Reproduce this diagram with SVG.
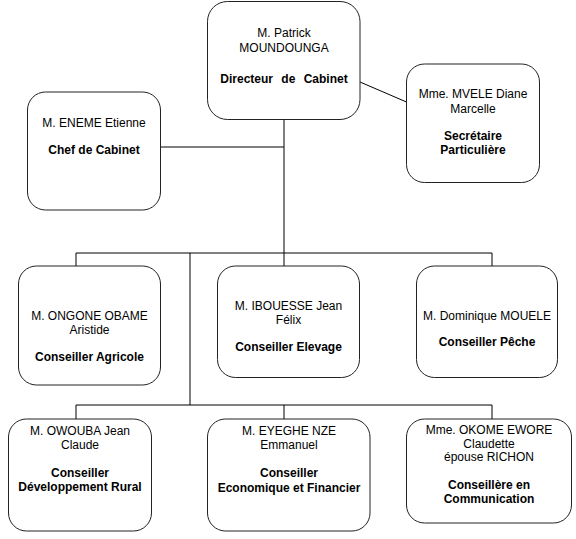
<svg xmlns="http://www.w3.org/2000/svg" width="576" height="539" viewBox="0 0 576 539">
<style>
  .box { fill: #ffffff; stroke: #222222; stroke-width: 1; }
  .conn { fill: none; stroke: #000000; stroke-width: 1; }
  text { font-family: "Liberation Sans", Arial, sans-serif; font-size: 12px; fill: #000000; text-anchor: middle; }
  .b { font-weight: bold; }
</style>
<rect x="0" y="0" width="576" height="539" fill="#ffffff"/>
<g id="connectors">
  <line class="conn" x1="284" y1="119.5" x2="284" y2="266"/>
  <line class="conn" x1="160.5" y1="147" x2="284" y2="147"/>
  <line class="conn" x1="360" y1="82" x2="406.5" y2="102"/>
  <polyline class="conn" points="76,266 76,253 492,253 492,266"/>
  <line class="conn" x1="190" y1="253" x2="190" y2="405"/>
  <polyline class="conn" points="76,419 76,405 492,405 492,419"/>
  <line class="conn" x1="284" y1="405" x2="284" y2="419"/>
</g>
<g id="directeur">
  <rect class="box" x="207.5" y="1.5" width="152.5" height="118" rx="20"/>
  <text x="284" y="37">M. Patrick</text>
  <text x="284" y="52">MOUNDOUNGA</text>
  <text class="b" x="284" y="83" word-spacing="5">Directeur de Cabinet</text>
</g>
<g id="secretaire">
  <rect class="box" x="406.5" y="64" width="133" height="118.5" rx="18"/>
  <text x="473" y="98">Mme. MVELE Diane</text>
  <text x="473" y="112.5">Marcelle</text>
  <text class="b" x="473" y="140">Secrétaire</text>
  <text class="b" x="473" y="154">Particulière</text>
</g>
<g id="chef">
  <rect class="box" x="27.5" y="92" width="133" height="118" rx="18"/>
  <text x="94" y="126.5">M. ENEME Etienne</text>
  <text class="b" x="94" y="154">Chef de Cabinet</text>
</g>
<g id="agricole">
  <rect class="box" x="18.5" y="266" width="142" height="119" rx="18"/>
  <text x="89.5" y="320">M. ONGONE OBAME</text>
  <text x="89.5" y="334">Aristide</text>
  <text class="b" x="89.5" y="360.5">Conseiller Agricole</text>
</g>
<g id="elevage">
  <rect class="box" x="217.5" y="266" width="142" height="111.5" rx="18"/>
  <text x="288.5" y="310">M. IBOUESSE Jean</text>
  <text x="288.5" y="324">Félix</text>
  <text class="b" x="288.5" y="351">Conseiller Elevage</text>
</g>
<g id="peche">
  <rect class="box" x="416.5" y="266" width="141" height="111.5" rx="18"/>
  <text x="487" y="320">M. Dominique MOUELE</text>
  <text class="b" x="487" y="346">Conseiller Pêche</text>
</g>
<g id="rural">
  <rect class="box" x="8.5" y="419" width="143" height="112" rx="18"/>
  <text x="80" y="434.5">M. OWOUBA Jean</text>
  <text x="80" y="448.5">Claude</text>
  <text class="b" x="80" y="476.5">Conseiller</text>
  <text class="b" x="80" y="490.5">Développement Rural</text>
</g>
<g id="economique">
  <rect class="box" x="207.5" y="419" width="162.5" height="112" rx="18"/>
  <text x="289" y="435">M. EYEGHE NZE</text>
  <text x="289" y="449">Emmanuel</text>
  <text class="b" x="289" y="477">Conseiller</text>
  <text class="b" x="289" y="491.5">Economique et Financier</text>
</g>
<g id="communication">
  <rect class="box" x="406.5" y="419" width="165" height="104" rx="18"/>
  <text x="489" y="434">Mme. OKOME EWORE</text>
  <text x="489" y="447.5">Claudette</text>
  <text x="489" y="461">épouse RICHON</text>
  <text class="b" x="489" y="489">Conseillère en</text>
  <text class="b" x="489" y="503">Communication</text>
</g>
</svg>
